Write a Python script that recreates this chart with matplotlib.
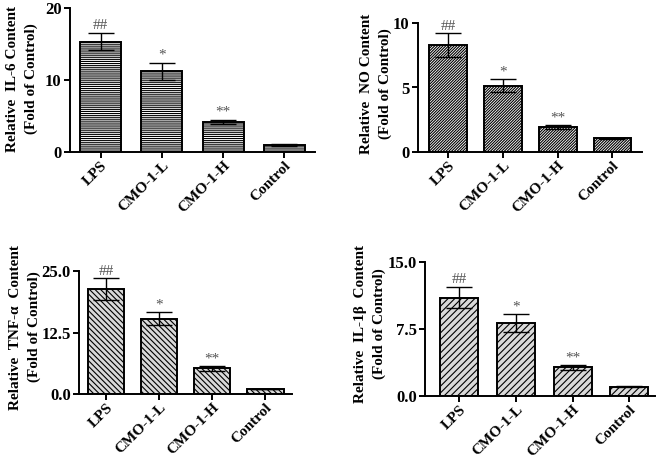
import matplotlib
matplotlib.use("Agg")
import matplotlib.pyplot as plt

plt.rcParams['font.family'] = ['Liberation Serif', 'DejaVu Serif']
plt.rcParams['font.weight'] = 'bold'
plt.rcParams['hatch.linewidth'] = 0.8

groups = ['LPS', 'CMO-1-L', 'CMO-1-H', 'Control']
marks = ['##', '*', '**', '']

il6_mean = [15.3, 11.2, 4.2, 1.0]
il6_err = [1.2, 1.2, 0.3, 0.1]
no_mean = [8.3, 5.15, 1.95, 1.05]
no_err = [0.9, 0.5, 0.15, 0.05]
tnf_mean = [21.3, 15.3, 5.2, 1.0]
tnf_err = [2.2, 1.3, 0.5, 0.05]
il1b_mean = [11.0, 8.2, 3.2, 1.05]
il1b_err = [1.2, 1.0, 0.3, 0.05]

W, H = 661, 461
fig = plt.figure(figsize=(W / 100, H / 100), dpi=100)


def panel(box, xlim, means, errs, ylim, yticks, yticklabels, ylabel, label_xy,
          hatch, fc, width=0.67):
    l, r, t, b = box
    ax = fig.add_axes([l / W, 1 - b / H, (r - l) / W, (b - t) / H])
    x = range(len(groups))
    ax.bar(x, means, width=width, color=fc, edgecolor='black', linewidth=1.4,
           hatch=hatch, zorder=2)
    ax.errorbar(x, means, yerr=errs, fmt='none', ecolor='black', elinewidth=1.0,
                capsize=width * 14, capthick=1.0, zorder=3)
    span = ylim[1] - ylim[0]
    for xi, m, e, s in zip(x, means, errs, marks):
        if s:
            ax.text(xi, m + e + span * 0.005, s, ha='center', va='bottom',
                    fontsize=11, color='#555555', fontweight='normal')
    ax.set_xlim(*xlim)
    ax.set_ylim(*ylim)
    ax.set_yticks(yticks)
    ax.set_yticklabels(yticklabels, fontsize=12, fontweight='bold')
    ax.set_xticks(list(x))
    ax.set_xticklabels(groups, rotation=45, ha='right', rotation_mode='anchor',
                       fontsize=11, fontweight='bold')
    fig.text(label_xy[0] / W, 1 - label_xy[1] / H, ylabel, rotation=90,
             ha='center', va='center', multialignment='center',
             fontsize=11, fontweight='bold', linespacing=1.55)
    for sp in ['top', 'right']:
        ax.spines[sp].set_visible(False)
    for sp in ['left', 'bottom']:
        ax.spines[sp].set_linewidth(1.4)
    ax.tick_params(axis='both', direction='out', width=1.4, length=4, pad=2)
    ax.tick_params(axis='x', pad=1)
    return ax


panel((70, 315, 8, 152), (-0.5, 3.5), il6_mean, il6_err, (0, 20), [0, 10, 20],
      ['0', '10', '20'], 'Relative  IL-6 Content\n(Fold of Control)', (22, 79),
      '--------', 'white')
panel((418, 642, 23, 152), (-0.55, 3.54), no_mean, no_err, (0, 10), [0, 5, 10],
      ['0', '5', '10'], 'Relative  NO Content\n(Fold of Control)', (376, 84),
      '////////////', 'white', 0.69)
panel((79, 292, 271, 394), (-0.51, 3.5), tnf_mean, tnf_err, (0, 25), [0, 12.5, 25],
      ['0.0', '12.5', '25.0'], 'Relative  TNF-\u03b1  Content\n(Fold of Control)', (25, 327),
      '\\' * 6, '#d9d9d9', 0.68)
panel((425, 655, 262, 396), (-0.6, 3.45), il1b_mean, il1b_err, (0, 15), [0, 7.5, 15],
      ['0.0', '7.5', '15.0'], 'Relative  IL-1\u03b2  Content\n(Fold of Control)', (370, 324),
      '/////', '#d9d9d9', 0.67)

fig.savefig('out.png', dpi=100)
